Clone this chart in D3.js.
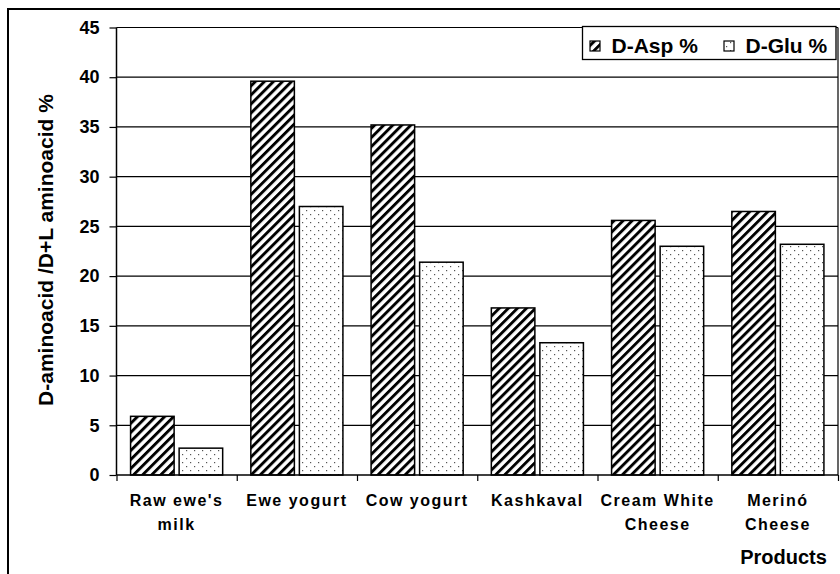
<!DOCTYPE html>
<html><head><meta charset="utf-8">
<script src="https://cdn.jsdelivr.net/npm/d3@7"></script>
<style>body{margin:0;background:#fff}svg{display:block}text{font-family:Arial,"Liberation Sans",sans-serif;font-weight:bold;fill:#000}</style>
</head><body>
<svg id="c" width="840" height="574"></svg>
<script>
const categories = [["Raw ewe's","milk"],["Ewe yogurt"],["Cow yogurt"],["Kashkaval"],["Cream White","Cheese"],["Merinó","Cheese"]];
const seriesNames = ["D-Asp %","D-Glu %"];
const dAsp = [5.9, 39.6, 35.2, 16.8, 25.6, 26.5];
const dGlu = [2.7, 27.0, 21.4, 13.3, 23.0, 23.2];
const yTicks = [0,5,10,15,20,25,30,35,40,45];

const svg = d3.select("#c");
const defs = svg.append("defs");
const hp = 6.4;
const hatch = defs.append("pattern").attr("id","hatch").attr("patternUnits","userSpaceOnUse")
  .attr("width",hp).attr("height",hp).attr("patternTransform","rotate(45)");
hatch.append("rect").attr("width",hp).attr("height",hp).attr("fill","#fff");
hatch.append("rect").attr("x",0).attr("width",2.9).attr("height",hp).attr("fill","#000");
const dots = defs.append("pattern").attr("id","dots").attr("patternUnits","userSpaceOnUse")
  .attr("width",8).attr("height",8);
dots.append("rect").attr("width",8).attr("height",8).attr("fill","#fff");
dots.append("rect").attr("x",2).attr("y",2).attr("width",1.2).attr("height",1.2).attr("fill","#555");
dots.append("rect").attr("x",6).attr("y",6).attr("width",1.2).attr("height",1.2).attr("fill","#555");

// outer border
svg.append("rect").attr("x",8).attr("y",9).attr("width",850).attr("height",600).attr("fill","none").attr("stroke","#000").attr("stroke-width",2);

const L=116.5, R=838, T=27.5, B=475;
const x = d3.scaleBand().domain(d3.range(categories.length)).range([L,R]);
const x1 = d3.scaleBand().domain([0,1]).range([0,x.bandwidth()]).paddingInner(0.103).paddingOuter(0.29);
const y = d3.scaleLinear().domain([0,45]).range([B,T]);

// gridlines
svg.append("g").selectAll("line").data(yTicks.filter(d=>d>0)).join("line")
  .attr("x1",L).attr("x2",R).attr("y1",d=>y(d)).attr("y2",d=>y(d)).attr("stroke","#000").attr("stroke-width",1.2);
svg.append("line").attr("x1",R).attr("x2",R).attr("y1",T).attr("y2",B).attr("stroke","#000").attr("stroke-width",1.2);

const data = categories.map((c,i)=>[dAsp[i],dGlu[i]]);
const fills = ["url(#hatch)","url(#dots)"];
const g = svg.append("g");
data.forEach((vals,i)=>{
  vals.forEach((v,j)=>{
    g.append("rect").attr("x",x(i)+x1(j)).attr("y",y(v)).attr("width",x1.bandwidth()).attr("height",y(0)-y(v))
      .attr("fill",fills[j]).attr("stroke","#000").attr("stroke-width",1.5);
  });
});

// y axis
const yAxis = d3.axisLeft(y).tickValues(yTicks).tickSize(7).tickPadding(10);
const ya = svg.append("g").attr("transform",`translate(${L},0)`).call(yAxis);
ya.select(".domain").attr("stroke","#000").attr("stroke-width",1.5).attr("d",`M0,${B}V${T}`);
ya.selectAll(".tick line").attr("stroke","#000").attr("stroke-width",1.2);
ya.selectAll(".tick text").style("font-size","18px").style("font-family","Arial,'Liberation Sans',sans-serif").style("font-weight","bold").attr("fill","#000");

// x axis
const xs = d3.scaleLinear().domain([0,categories.length]).range([L,R]);
const xa = svg.append("g").attr("transform",`translate(0,${B})`)
  .call(d3.axisBottom(xs).tickValues(d3.range(categories.length+1)).tickSize(6).tickFormat(""));
xa.select(".domain").attr("stroke","#000").attr("stroke-width",1.5).attr("d",`M${L},0H${R}`);
xa.selectAll(".tick line").attr("stroke","#000").attr("stroke-width",1.2);

const labs = svg.append("g");
categories.forEach((c,i)=>{
  c.forEach((line,k)=>{
    labs.append("text").attr("x",x(i)+x.bandwidth()/2).attr("y",506+k*23.5).attr("text-anchor","middle")
      .style("font-size","16px").style("letter-spacing","1.5px").text(line);
  });
});

svg.append("text").attr("x",783.5).attr("y",564).attr("text-anchor","middle").style("font-size","20px").text("Products");
svg.append("text").attr("transform",`translate(53,250) rotate(-90)`).attr("text-anchor","middle")
  .style("font-size","21px").text("D-aminoacid /D+L aminoacid %");

// legend
const lg = svg.append("g");
lg.append("rect").attr("x",582.5).attr("y",26.5).attr("width",253.5).attr("height",33).attr("fill","#fff").attr("stroke","#000").attr("stroke-width",1.3);
const lx = [590, 724];
seriesNames.forEach((s,j)=>{
  lg.append("rect").attr("x",lx[j]).attr("y",41).attr("width",10).attr("height",10).attr("fill",fills[j]).attr("stroke","#000").attr("stroke-width",1.2);
  lg.append("text").attr("x",lx[j]+21.5).attr("y",53).style("font-size","21px").text(s);
});
</script>
</body></html>
